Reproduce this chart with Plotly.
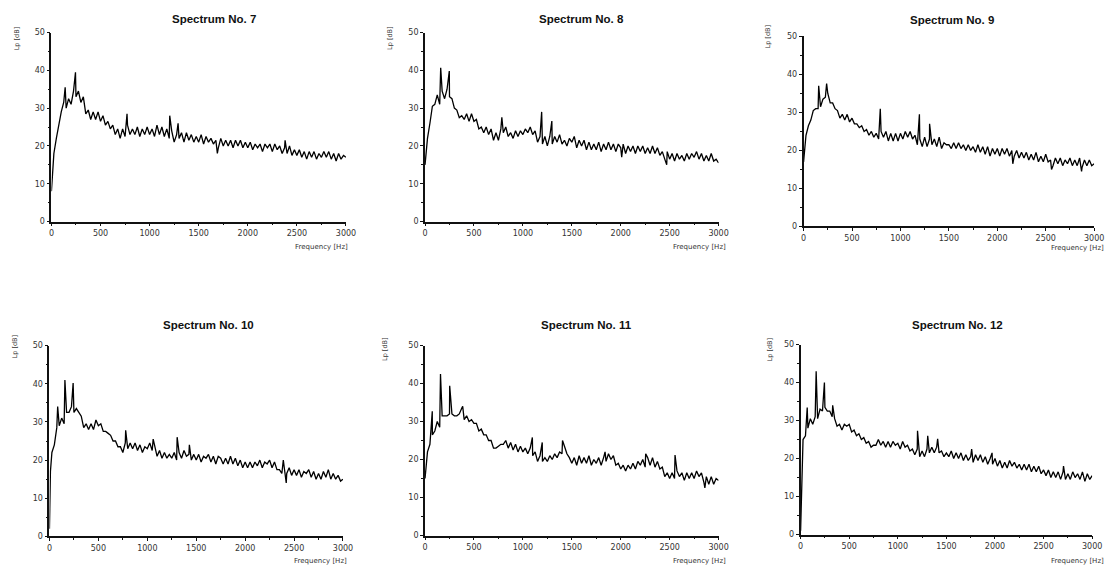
import plotly.graph_objects as go

# ---------------- data ----------------
FREQ_HZ = list(range(0, 3001, 25))

SPEC_TITLES = ["Spectrum No. 7", "Spectrum No. 8", "Spectrum No. 9",
               "Spectrum No. 10", "Spectrum No. 11", "Spectrum No. 12"]

X_TICKS = [0, 500, 1000, 1500, 2000, 2500, 3000]
Y_TICKS = [0, 10, 20, 30, 40, 50]
X_LABEL = "Frequency [Hz]"
Y_LABEL = "Lp [dB]"

LP_7 = [8, 18, 22, 26, 29, 31.5, 30, 32.5, 31, 34.5, 33, 34.5, 31.5, 33, 28.5, 29.5, 27, 29, 27, 29,
        26.5, 28, 25.5, 26.5, 24.5, 25.5, 23, 24.5, 22, 24.5, 22.5, 25.5, 23, 24.5, 23, 25, 22.5, 24.5, 23, 25,
        23, 24.5, 22.5, 25.5, 23, 25, 22.5, 24.5, 22, 24, 21, 23, 22, 23.5, 21, 23.5, 21.5, 23, 21, 22.5,
        21, 23, 20.5, 22.5, 21, 22, 20.5, 21.5, 19.5, 22, 20, 21.5, 20, 21.5, 19.5, 21.5, 20, 21.5, 19.5, 21,
        19.5, 21, 19, 20.5, 19.5, 20.5, 18.5, 20.5, 19.5, 20.5, 18.5, 20.5, 19, 20, 18, 19.5, 18, 20, 17.5, 19,
        17.5, 19, 17, 18.5, 16.5, 18.5, 17, 18.5, 16.5, 18, 17, 18.5, 17, 18.5, 16.5, 18, 16, 18, 16.5, 17.5,
        17]
PEAK_HZ_7 = [140, 245, 770, 1205, 1290, 1690, 2380]
PEAK_DB_7 = [35.5, 39.5, 28.5, 28, 26, 18, 21.5]

LP_8 = [15, 22, 26, 30.5, 31, 33.5, 31, 34.5, 32.5, 35, 33, 32.5, 30, 29.5, 27.5, 28, 27, 28.5, 26.5, 28.5,
        26.5, 27, 24.5, 25, 23.5, 25, 23, 24.5, 21.5, 23.5, 21.5, 24.5, 23.5, 25, 22.5, 23.5, 22, 24, 22.5, 24,
        23, 24.5, 23.5, 25, 23, 24, 21, 22.5, 20.5, 22.5, 20, 22.5, 20.5, 22.5, 21, 23, 20.5, 21.5, 20, 22,
        21, 22.5, 19.5, 21.5, 20, 21.5, 19, 21, 19, 20.5, 19, 21, 18.5, 20.5, 19, 21, 19, 20.5, 18.5, 20.5,
        19.5, 20.5, 18, 20, 18.5, 20, 18, 20, 18.5, 20, 18, 19.5, 18, 20, 18, 19.5, 17.5, 18.5, 16.5, 18.5,
        16.5, 18, 16, 18, 16.5, 17.5, 16, 18, 16.5, 18, 17, 18.5, 16.5, 18, 16, 17.5, 16, 18, 16, 16.5,
        15.5]
PEAK_HZ_8 = [160, 248, 785, 1192, 1296, 2010, 2470]
PEAK_DB_8 = [40.7, 39.8, 27.6, 29, 26.6, 17, 15]

LP_9 = [17, 24, 26.5, 28, 30.5, 31, 31, 31.5, 33.5, 34, 35, 32.5, 32.5, 31, 30.5, 28.5, 29.5, 28, 29.5, 27.5,
        28.5, 27, 27, 26, 26.5, 25, 25.5, 24, 25, 23.5, 24.5, 23, 25, 23.5, 25, 22.5, 24.5, 22.5, 24.5, 22.5,
        24.5, 23, 25, 23.5, 25, 23, 24, 21.5, 23, 21, 23.5, 21, 23, 21.5, 23, 21, 23.5, 20.5, 22, 21.5,
        21.5, 20.5, 22, 20.5, 22, 20.5, 21.5, 20, 21.5, 20, 21, 19.5, 21.5, 19.5, 21, 19, 21, 18.5, 20.5, 19,
        20.5, 18.5, 20.5, 19, 20.5, 18.5, 20, 18.5, 20, 18, 19.5, 18, 19.5, 17.5, 19, 17.5, 19.5, 17, 18.5, 17,
        19, 17, 17.5, 16, 18, 16.5, 18, 16, 17.5, 16.5, 18, 16, 17.5, 16, 18, 15.5, 17.5, 16, 17.5, 16,
        16.5]
PEAK_HZ_9 = [156, 238, 792, 1196, 1301, 2160, 2560, 2870]
PEAK_DB_9 = [37, 37.6, 31, 29.5, 27, 16.5, 15, 14.5]

LP_10 = [2, 22, 24, 28.5, 29, 31, 29.5, 32.5, 32.5, 34, 32.5, 33.5, 32.5, 31.5, 28.5, 29.5, 28, 29.5, 28, 30.5,
         29, 29.5, 27.5, 27.5, 27, 26.5, 25, 25, 23.5, 23.5, 22, 24.5, 23, 24.5, 23, 24.5, 22.5, 24, 22, 23.5,
         23, 24.5, 22.5, 23.5, 21, 22.5, 20.5, 22, 20.5, 21.5, 20.5, 22, 20, 22, 20.5, 22.5, 21, 21.5, 20, 21.5,
         20, 21.5, 19.5, 21, 20.5, 21.5, 19.5, 21, 19, 21, 20.5, 19, 20.5, 19, 21, 19, 20.5, 18.5, 20, 18,
         19.5, 18, 19.5, 18, 19.5, 18.5, 20, 18, 19.5, 19, 20, 18, 19.5, 17.5, 17.5, 16.5, 18, 16.5, 18, 16,
         17.5, 16, 17.5, 15.5, 17, 16.5, 17.5, 15.5, 17, 15, 16.5, 15, 17, 15.5, 17.5, 15, 16.5, 15, 16, 14.5,
         15]
PEAK_HZ_10 = [10, 84, 158, 242, 779, 1060, 1305, 1430, 2390, 2420]
PEAK_DB_10 = [17, 34, 41, 40.2, 27.8, 25.5, 26, 24, 20, 14]

LP_11 = [15, 22, 24, 26.5, 27.5, 30, 28.5, 31.5, 31.5, 31.5, 32, 32, 31.5, 31.5, 32, 33.5, 30.5, 31.5, 30, 30.5,
         29.5, 29.5, 27.5, 28, 26.5, 26.5, 25, 25, 23, 23, 23.5, 24, 24, 25, 23, 24.5, 22.5, 24, 22, 23.5,
         22, 23, 21.5, 23, 21, 22, 19.5, 21, 19.5, 20.5, 19.5, 21, 20, 21.5, 20.5, 22, 21.5, 23.5, 21.5, 20.5,
         19, 20.5, 18.5, 21, 19, 20.5, 19, 21, 18.5, 20, 19, 20.5, 18.5, 20.5, 19.5, 21.5, 20, 21, 18.5, 19,
         17.5, 18.5, 17, 18.5, 17.5, 19, 17.5, 19.5, 18.5, 20, 18, 20.5, 18.5, 20.5, 18, 19.5, 17.5, 18, 15.5, 16.5,
         15, 16.5, 15, 17, 15.5, 16.5, 14.5, 16.5, 15, 16.5, 15, 17, 15.5, 16.5, 14, 15.5, 13.5, 15.5, 13.5, 15,
         14.5]
PEAK_HZ_11 = [74, 158, 252, 385, 1097, 1198, 1405, 1840, 2255, 2555, 2860]
PEAK_DB_11 = [32.7, 42.5, 39.4, 34, 25.8, 24.5, 25, 22, 21.5, 21.2, 12.5]

LP_12 = [1, 25, 26, 28, 30.5, 29, 31, 30.5, 33, 32.5, 33.5, 32.5, 32.5, 31, 30.5, 28.5, 29, 27.5, 29, 28.5,
         29, 27, 27.5, 26, 26.5, 25, 25.5, 24, 24.5, 23, 23.5, 23.5, 25, 23.5, 24.5, 23, 24.5, 23, 24.5, 23.5,
         24, 22.5, 24.5, 23, 23.5, 22, 22.5, 21, 22.5, 20.5, 22, 20.5, 22.5, 21.5, 23, 21.5, 23, 21.5, 22, 20.5,
         21.5, 20.5, 22, 20, 21.5, 20, 21.5, 19.5, 21, 19.5, 20.5, 19, 21, 19.5, 21, 19, 20.5, 18.5, 20, 18.5,
         20, 18, 19.5, 17.5, 19, 17.5, 19.5, 18, 19, 17.5, 18.5, 17, 18.5, 17, 18.5, 16.5, 18, 16.5, 18, 16,
         17, 15.5, 17, 15, 16.5, 15, 16.5, 14.5, 16.5, 14.5, 16, 14.5, 16.5, 15, 16, 14.5, 16.5, 14, 16, 14.5,
         15.5]
PEAK_HZ_12 = [68, 160, 245, 330, 1203, 1308, 1410, 1760, 1970, 2705]
PEAK_DB_12 = [33.4, 43, 40, 34, 27.3, 26, 25.2, 22.5, 21.5, 18]

SERIES = [(LP_7, PEAK_HZ_7, PEAK_DB_7), (LP_8, PEAK_HZ_8, PEAK_DB_8), (LP_9, PEAK_HZ_9, PEAK_DB_9),
          (LP_10, PEAK_HZ_10, PEAK_DB_10), (LP_11, PEAK_HZ_11, PEAK_DB_11), (LP_12, PEAK_HZ_12, PEAK_DB_12)]

# ---------------- layout geometry (pixels in a 1117x572 page) ----------------
W, H = 1117, 572
# plot boxes: left, right, top, bottom
BOXES = [(49, 347, 29, 221), (427, 724, 29, 221), (810, 1104, 33, 226),
         (47, 344, 347, 541), (427, 724, 347, 540), (807, 1102, 346, 539)]
TITLE_POS = [(213, 15), (585, 15), (960, 16), (208, 326), (590, 326), (966, 326)]
YLAB_POS = [(15, 35), (392, 35), (774, 33), (12, 348), (387, 351), (777, 351)]
XLAB_POS = [(351, 247), (734, 247), (1116, 248), (350, 566), (734, 566), (1116, 566)]

FONT = "Liberation Sans, Arial, sans-serif"
TICK_FONT = dict(family="DejaVu Sans, sans-serif", size=8, color="#333")
AX = "#111"

fig = go.Figure()
annotations = []
for i, ((lp, pk_hz, pk_db), title) in enumerate(zip(SERIES, SPEC_TITLES)):
    pts = sorted(zip(FREQ_HZ + pk_hz, lp + pk_db))
    xs = [p[0] for p in pts]
    ys = [p[1] for p in pts]
    n = "" if i == 0 else str(i + 1)
    fig.add_trace(go.Scatter(x=xs, y=ys, mode="lines", xaxis="x" + n, yaxis="y" + n,
                             line=dict(color="#000", width=1.3), showlegend=False,
                             hoverinfo="skip"))
    l, r, t, b = BOXES[i]
    xdom = [l / W, r / W]
    ydom = [1 - b / H, 1 - t / H]
    fig.layout["xaxis" + n] = dict(
        domain=xdom, anchor="y" + n, range=[0, 3000],
        tickvals=X_TICKS, ticks="outside", ticklen=3, tickwidth=1.3, tickcolor=AX,
        minor=dict(dtick=250, ticks="outside", ticklen=2, tickwidth=1.3, tickcolor=AX),
        showline=True, linecolor=AX, linewidth=1.8, showgrid=False, zeroline=False,
        tickfont=TICK_FONT, fixedrange=True)
    fig.layout["yaxis" + n] = dict(
        domain=ydom, anchor="x" + n, range=[0, 50],
        tickvals=Y_TICKS, ticks="outside", ticklen=3, tickwidth=1.3, tickcolor=AX,
        minor=dict(dtick=5, ticks="outside", ticklen=2, tickwidth=1.3, tickcolor=AX),
        showline=True, linecolor=AX, linewidth=1.8, showgrid=False, zeroline=False,
        tickfont=TICK_FONT, fixedrange=True)
    # overlay axes drawing the inner half of the crossing tick marks
    k = str(7 + i)
    fig.layout["xaxis" + k] = dict(
        overlaying="x" + n, anchor="y" + n, domain=xdom, range=[0, 3000],
        tickvals=X_TICKS, ticks="inside", ticklen=3, tickwidth=1.3, tickcolor=AX,
        minor=dict(dtick=250, ticks="inside", ticklen=2, tickwidth=1.3, tickcolor=AX),
        showticklabels=False, showline=False, showgrid=False, zeroline=False, fixedrange=True)
    fig.layout["yaxis" + k] = dict(
        overlaying="y" + n, anchor="x" + n, domain=ydom, range=[0, 50],
        tickvals=Y_TICKS, ticks="inside", ticklen=3, tickwidth=1.3, tickcolor=AX,
        minor=dict(dtick=5, ticks="inside", ticklen=2, tickwidth=1.3, tickcolor=AX),
        showticklabels=False, showline=False, showgrid=False, zeroline=False, fixedrange=True)
    tx, ty = TITLE_POS[i]
    annotations.append(dict(text="<b>" + title + "</b>", x=tx / W, y=1 - ty / H, xref="paper",
                            yref="paper", showarrow=False, xanchor="center", yanchor="middle",
                            font=dict(family=FONT, size=11.5, color="#111")))
    yx, yy = YLAB_POS[i]
    annotations.append(dict(text=Y_LABEL, x=yx / W, y=1 - yy / H, xref="paper", yref="paper",
                            showarrow=False, textangle=-90, xanchor="center", yanchor="middle",
                            font=dict(family="DejaVu Sans, sans-serif", size=6.5, color="#333")))
    xx, xy = XLAB_POS[i]
    annotations.append(dict(text=X_LABEL, x=xx / W, y=1 - xy / H, xref="paper", yref="paper",
                            showarrow=False, xanchor="right", yanchor="middle",
                            font=dict(family="DejaVu Sans, sans-serif", size=7, color="#333")))

fig.update_layout(width=W, height=H, margin=dict(l=0, r=0, t=0, b=0),
                  paper_bgcolor="white", plot_bgcolor="white", annotations=annotations)

fig.write_html("out.html", include_plotlyjs=True, full_html=True,
               config={"displayModeBar": False},
               post_script="document.body.style.margin='0';document.body.style.overflow='hidden';")
